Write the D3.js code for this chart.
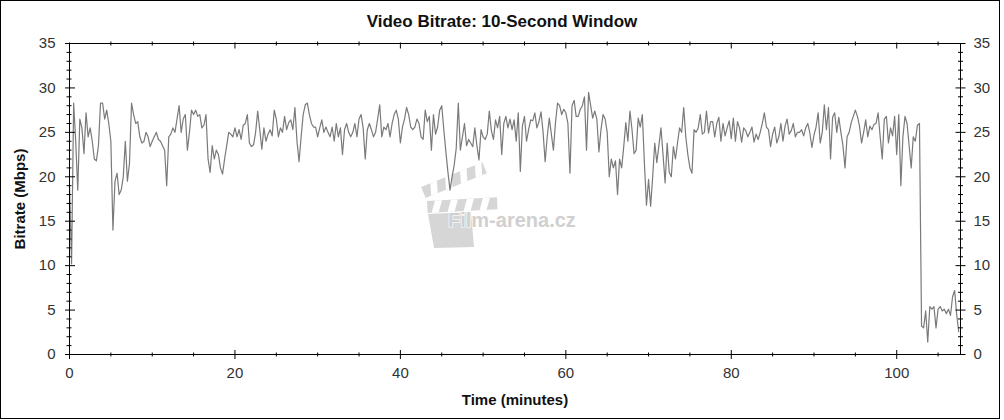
<!DOCTYPE html>
<html><head><meta charset="utf-8">
<script src="https://cdn.jsdelivr.net/npm/d3@7"></script>
<style>html,body{margin:0;padding:0;background:#fff;} svg{display:block;}</style>
</head><body><svg id="chart" width="1004" height="420"></svg>
<script>
const chartTitle = "Video Bitrate: 10-Second Window";
const xAxisTitle = "Time (minutes)";
const yAxisTitle = "Bitrate (Mbps)";
const watermarkText = "Film-arena.cz";
const sampleStepMinutes = 0.25;
const xMax = 107.71;
const yMax = 35;
const xMajorTicks = [0, 20, 40, 60, 80, 100];
const xTickLabels = ["0", "20", "40", "60", "80", "100"];
const xMinorTicks = [5, 10, 15, 25, 30, 35, 45, 50, 55, 65, 70, 75, 85, 90, 95, 105];
const yMajorTicks = [0, 5, 10, 15, 20, 25, 30, 35];
const yTickLabels = ["0", "5", "10", "15", "20", "25", "30", "35"];
const yMinorTicks = d3.range(0, 36).filter(v => v % 5 !== 0);
// Mbps, one reading every 0.25 minute
const bitrate = [
19, 10.2, 28.3, 24, 18.5, 26.5, 25.5, 22.6, 27.2, 24.5, 25.5, 24, 22, 21.8, 23.5, 28.3, 28.3, 26.5, 27.5, 26,
24, 14, 19.5, 20.4, 18, 18.5, 20, 24, 19.5, 21.5, 28.3, 27, 26, 26.2, 24.5, 23.8, 24, 25, 24.5, 23.4,
24, 24.5, 25, 24.2, 24, 23.5, 23, 19, 24.5, 24.8, 25.5, 25, 26.5, 28, 25, 26.5, 27, 23, 25, 27.5,
27, 27.5, 26.8, 27, 25.5, 25.8, 27, 22, 20.5, 23.5, 22, 23, 22.5, 21, 20.3, 22, 23.5, 25, 24.8, 24.5,
25.5, 24.5, 25.3, 24.2, 25.8, 26, 27, 23.8, 23.4, 23.6, 25, 27.4, 25.3, 23.1, 25.5, 24, 24.8, 25.3, 24.6, 27.5,
26.5, 24.5, 25.5, 25, 26.8, 25.3, 26.1, 26.4, 25.3, 27.8, 24, 21.7, 24.5, 27, 28.1, 28.3, 27, 26, 25.6, 25.6,
24.5, 25.5, 26.4, 25, 25.6, 25, 24.5, 25.6, 24, 26, 24.5, 25.5, 22.5, 25.3, 26, 25, 24.5, 25, 26, 24.5,
26.5, 27, 25.5, 22, 25.3, 26, 25.3, 24.5, 25, 26.5, 28.1, 24.5, 25.6, 25.3, 26, 24.5, 26, 27, 27.5, 26.5,
23.8, 25.6, 26.5, 27.8, 27, 25.6, 25.3, 25.6, 26.5, 26, 24.5, 24.2, 27.5, 26.2, 26.8, 23, 27, 24.8, 25.6, 27.5,
28, 25.3, 22.8, 20.5, 18.5, 20, 21.3, 23.2, 28.3, 23, 24.5, 26, 23.5, 24.2, 23.8, 23.4, 25.5, 23.5, 21.9, 25.3,
24.5, 24.2, 24.8, 27.4, 25.2, 24.2, 26.4, 25.5, 26.8, 22.5, 26, 26.8, 25.5, 26.5, 25.3, 26.4, 24, 27.2, 20.6, 25.7,
26.8, 24, 25.3, 26.4, 26.3, 27.2, 25.5, 26.2, 27.3, 25, 21.7, 24.5, 26.6, 24.8, 23, 26.1, 28.3, 28, 27, 27.6,
27.2, 26, 20.4, 28, 28.6, 26.8, 26.8, 27.6, 28, 29, 23, 29.5, 28, 26.6, 27.4, 26.5, 22.8, 25.3, 27, 26.5,
25, 20, 22, 21, 21.8, 18, 22, 21, 23.4, 26.1, 24, 27.4, 25.3, 22.6, 23, 26.6, 25.6, 27, 21.5, 16.8,
19.7, 16.7, 20, 23.8, 21.6, 23.5, 25.5, 22.5, 19.3, 23.8, 20.5, 20, 23.4, 22, 23.8, 25.5, 25, 27.8, 24.5, 22.5,
21, 20.4, 25.3, 25, 25.5, 27, 24.8, 25, 27.4, 24.9, 26.2, 26.2, 24.5, 26, 26.7, 24, 26, 24.6, 25.5, 26.3,
24.3, 26.6, 24, 26.2, 25.5, 23.9, 25.5, 25.2, 24.5, 25, 25.6, 23.9, 24.8, 24.2, 25, 26, 27.2, 25.6, 25.3, 23.4,
24.8, 25.6, 23.8, 24.5, 26, 24, 25.7, 26.5, 24.8, 25.2, 26, 24.5, 25, 25, 25.3, 24.6, 25.5, 26, 24.9, 23.3,
24.7, 25.6, 27.2, 23.8, 25, 28.1, 25.3, 27.8, 22, 26.7, 27.2, 25, 26.7, 25, 23.5, 21, 24.5, 25, 26.1, 26.8,
27.5, 26.8, 25.7, 23.8, 25, 26.4, 24.5, 25.7, 25.3, 25.9, 26, 27.2, 24.5, 22, 26.5, 26.8, 23.8, 25.5, 24.6, 26.8,
22.5, 27, 19, 24.5, 26.8, 26, 23.5, 21, 24.5, 24, 25.8, 26, 3.2, 3, 4.9, 1.4, 5.4, 5.1, 5.4, 3,
5.1, 5.4, 4.9, 5.1, 4.6, 5.1, 4.4, 6.5, 7.2, 4.5, 2.5
];

const FONT = "'Liberation Sans', Arial, Helvetica, sans-serif";
const svg = d3.select("#chart");
const x = d3.scaleLinear().domain([0, xMax]).range([69.5, 960.5]);
const y = d3.scaleLinear().domain([0, yMax]).range([354.5, 43.5]);

// outer border
svg.append("rect").attr("x", 0.5).attr("y", 0.5).attr("width", 999).attr("height", 418)
  .attr("fill", "#fff").attr("stroke", "#000").attr("stroke-width", 1);

// watermark
const wm = svg.append("g").attr("fill", "#d6d6d6");
const bar = wm.append("g").attr("transform", "translate(427,201) rotate(-3)");
bar.append("rect").attr("width", 70).attr("height", 12);
[8, 24, 40, 56].forEach(s => bar.append("polygon").attr("fill", "#fff")
  .attr("points", `${s},0 ${s + 7},0 ${s + 3},12 ${s - 4},12`));
const arm = wm.append("g").attr("transform", "translate(426,199) rotate(-22)");
arm.append("rect").attr("y", -13).attr("width", 66).attr("height", 12);
[10, 26, 42, 58].forEach(s => arm.append("polygon").attr("fill", "#fff")
  .attr("points", `${s},-13 ${s + 7},-13 ${s + 3},-1 ${s - 4},-1`));
wm.append("polygon").attr("points", "428,214 471,212 474,247 434,248");
wm.append("text").attr("x", 448).attr("y", 227).attr("font-family", FONT)
  .attr("font-weight", "bold").attr("font-size", 20).attr("fill", "#d0d0d0")
  .attr("stroke", "#fff").attr("stroke-width", 1.2).attr("paint-order", "stroke")
  .text(watermarkText);

// data line
const line = d3.line().x((d, i) => x(i * sampleStepMinutes)).y(d => y(d));
svg.append("path").datum(bitrate).attr("d", line)
  .attr("fill", "none").attr("stroke", "#7a7a7a").attr("stroke-width", 1.2)
  .attr("stroke-linejoin", "round");

// plot frame
svg.append("rect").attr("x", x(0)).attr("y", y(yMax))
  .attr("width", x(xMax) - x(0)).attr("height", y(0) - y(yMax))
  .attr("fill", "none").attr("stroke", "#000").attr("stroke-width", 1);

function styleAxis(g) {
  g.attr("font-family", FONT).attr("font-size", 15);
  g.select(".domain").remove();
  g.selectAll(".tick line").attr("stroke", "#000");
  g.selectAll(".tick text").attr("fill", "#333");
}

// left axis
const gL = svg.append("g").attr("transform", `translate(${x(0)},0)`)
  .call(d3.axisLeft(y).tickValues(yMajorTicks).tickSize(4.5).tickPadding(9.5).offset(0)
    .tickFormat((d, i) => yTickLabels[i]));
styleAxis(gL); gL.selectAll(".tick line").attr("x1", 5.5);
const gLm = svg.append("g").attr("transform", `translate(${x(0)},0)`)
  .call(d3.axisLeft(y).tickValues(yMinorTicks).tickSize(3).tickFormat("").offset(0));
styleAxis(gLm); gLm.selectAll(".tick line").attr("x1", 2);

// right axis
const gR = svg.append("g").attr("transform", `translate(${x(xMax)},0)`)
  .call(d3.axisRight(y).tickValues(yMajorTicks).tickSize(5).tickPadding(8).offset(0)
    .tickFormat((d, i) => yTickLabels[i]));
styleAxis(gR); gR.selectAll(".tick line").attr("x1", -5);
const gRm = svg.append("g").attr("transform", `translate(${x(xMax)},0)`)
  .call(d3.axisRight(y).tickValues(yMinorTicks).tickSize(2.5).tickFormat("").offset(0));
styleAxis(gRm); gRm.selectAll(".tick line").attr("x1", -2.5);

// bottom axis
const gB = svg.append("g").attr("transform", `translate(0,${y(0)})`)
  .call(d3.axisBottom(x).tickValues(xMajorTicks).tickSize(4.5).tickPadding(8.5).offset(0)
    .tickFormat((d, i) => xTickLabels[i]));
styleAxis(gB); gB.selectAll(".tick line").attr("y1", -4.5);
const gBm = svg.append("g").attr("transform", `translate(0,${y(0)})`)
  .call(d3.axisBottom(x).tickValues(xMinorTicks).tickSize(2).tickFormat("").offset(0));
styleAxis(gBm); gBm.selectAll(".tick line").attr("y1", -2);

// top axis
const gT = svg.append("g").attr("transform", `translate(0,${y(yMax)})`)
  .call(d3.axisBottom(x).tickValues(xMajorTicks).tickSize(5).tickFormat("").offset(0));
styleAxis(gT); gT.selectAll(".tick line").attr("y1", -1);
const gTm = svg.append("g").attr("transform", `translate(0,${y(yMax)})`)
  .call(d3.axisBottom(x).tickValues(xMinorTicks).tickSize(2).tickFormat("").offset(0));
styleAxis(gTm); gTm.selectAll(".tick line").attr("y1", -2);

// titles
svg.append("text").attr("x", 502).attr("y", 26.7).attr("text-anchor", "middle")
  .attr("font-family", FONT).attr("font-weight", "bold").attr("font-size", 17)
  .attr("fill", "#111").text(chartTitle);
svg.append("text").attr("x", (x(0) + x(xMax)) / 2).attr("y", 405).attr("text-anchor", "middle")
  .attr("font-family", FONT).attr("font-weight", "bold").attr("font-size", 15)
  .attr("fill", "#111").text(xAxisTitle);
svg.append("text").attr("transform", `translate(24.5,${(y(0) + y(yMax)) / 2}) rotate(-90)`)
  .attr("text-anchor", "middle")
  .attr("font-family", FONT).attr("font-weight", "bold").attr("font-size", 15)
  .attr("fill", "#111").text(yAxisTitle);
</script>
</body></html>
